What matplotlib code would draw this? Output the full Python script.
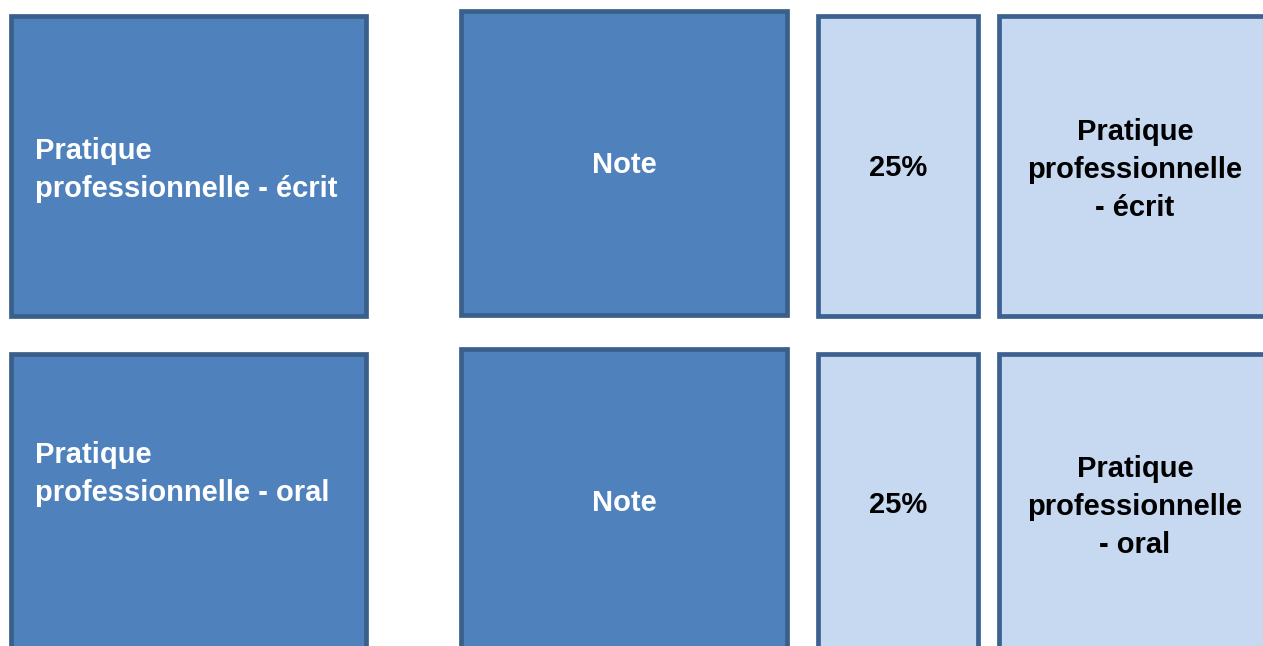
import matplotlib.pyplot as plt
from matplotlib.patches import Rectangle

# Contents of the two rows of the diagram
categories = ["Pratique\nprofessionnelle - écrit", "Pratique\nprofessionnelle - oral"]
kinds = ["Note", "Note"]
weights = ["25%", "25%"]
descriptions = ["Pratique\nprofessionnelle\n- écrit", "Pratique\nprofessionnelle\n- oral"]

DARK_FILL = "#4F81BD"
DARK_EDGE = "#3A5F8B"
LIGHT_FILL = "#C6D9F0"
LIGHT_EDGE = "#3C6190"
FONT = ["Liberation Sans", "DejaVu Sans"]

W, H = 1263, 646
fig = plt.figure(figsize=(W / 100, H / 100), dpi=100)
ax = fig.add_axes([0, 0, 1, 1])
ax.set_xlim(0, W)
ax.set_ylim(H, 0)
ax.axis("off")

FS = 21
LW = 3.4

rows = [
    dict(top_a=14, top_b=9, bot_a=318, bot_b=317, txt_left=170, txt_note=165, txt_pct=168, txt_desc=170),
    dict(top_a=352, top_b=347, bot_a=720, bot_b=720, txt_left=474, txt_note=503, txt_pct=505, txt_desc=507),
]


def box(x0, x1, y0, y1, fill, edge):
    # the stroke is centred on the path, so pull it in by half the line width
    h = 2.4
    ax.add_patch(Rectangle((x0 + h, y0 + h), x1 - x0 - 2 * h, y1 - y0 - 2 * h,
                           facecolor=fill, edgecolor=edge, linewidth=LW))


def label(x, y, s, color, ha="center", ma="center"):
    ax.text(x, y, s, color=color, fontsize=FS, fontweight="bold", family=FONT,
            ha=ha, va="center", linespacing=1.45, multialignment=ma)


for i, r in enumerate(rows):
    box(9, 368, r["top_a"], r["bot_a"], DARK_FILL, DARK_EDGE)
    label(35, r["txt_left"], categories[i], "white", ha="left", ma="left")

    box(459, 789, r["top_b"], r["bot_b"], DARK_FILL, DARK_EDGE)
    label(624, r["txt_note"], kinds[i], "white")

    box(816, 980, r["top_a"], r["bot_a"], LIGHT_FILL, LIGHT_EDGE)
    label(898, r["txt_pct"], weights[i], "black")

    box(997, 1300, r["top_a"], r["bot_a"], LIGHT_FILL, LIGHT_EDGE)
    label(1135, r["txt_desc"], descriptions[i], "black")

fig.savefig("out.png", dpi=100)
